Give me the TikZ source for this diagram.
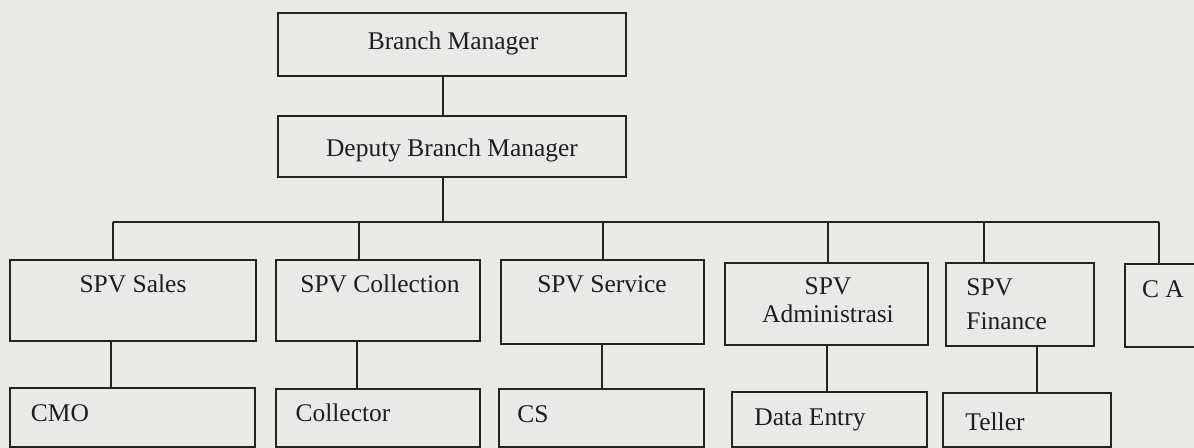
\documentclass[tikz,border=0pt]{standalone}
\usepackage{fontspec}
\setmainfont{Liberation Serif}
\usepackage{xcolor}
\usetikzlibrary{positioning,fit}

\definecolor{paper}{RGB}{233,233,231}
\definecolor{ink}{RGB}{40,33,28}
\definecolor{lettering}{RGB}{30,30,30}

\tikzset{
	unitbox/.style={draw=ink,line width=1.3pt,inner sep=0pt},
	link/.style={draw=ink,line width=1.3pt},
	caption/.style={text=lettering,inner sep=0pt,font=\fontsize{14.5}{18}\selectfont}
}

\begin{document}
\begin{tikzpicture}[x=0.02cm,y=-0.02cm]
		
		\fill[paper] (0,0) rectangle (1194,448);
		\useasboundingbox (0,0) rectangle (1194,448);
		
		% top of the chart
		\node[unitbox,fit={(278,13) (626,76)}] (bm) {};
		\node[unitbox,fit={(278,116) (626,177)}] (dbm) {};
		\node[caption,anchor=base] (bm-t) at (453,50) {Branch Manager};
		\node[caption,anchor=base] (dbm-t) at (452,157) {Deputy Branch Manager};
		
		% supervisors
		\node[unitbox,fit={(10,260) (256,341)}] (sales) {};
		\node[unitbox,fit={(276,260) (480,341)}] (coll) {};
		\node[unitbox,fit={(501,260) (704,344)}] (serv) {};
		\node[unitbox,fit={(725,263) (928,345)}] (adm) {};
		\node[unitbox,fit={(946,263) (1094,346)}] (fin) {};
		\node[unitbox,fit={(1125,264) (1220,347)}] (ca) {};
		
		\node[caption,anchor=base] (sales-t) at (133,293) {SPV Sales};
		\node[caption,anchor=base] (coll-t) at (380,293) {SPV Collection};
		\node[caption,anchor=base] (serv-t) at (602,293) {SPV Service};
		\node[caption,align=center,anchor=base,font=\fontsize{14.5}{16}\selectfont] (adm-t) at (828,323) {SPV\\Administrasi};
		\node[caption,align=left,anchor=base west,font=\fontsize{14.5}{19.5}\selectfont] (fin-t) at (966,330) {SPV\\Finance};
		\node[caption,anchor=base] (ca-t) at (1163,298) {C A};
		
		% staff
		\node[unitbox,fit={(10,388) (255,447)}] (cmo) {};
		\node[unitbox,fit={(276,389) (480,447)}] (collr) {};
		\node[unitbox,fit={(499,389) (704,447)}] (cs) {};
		\node[unitbox,fit={(732,392) (927,447)}] (de) {};
		\node[unitbox,fit={(943,393) (1111,447)}] (tel) {};
		
		\node[caption,anchor=base] (cmo-t) at (60,422) {CMO};
		\node[caption,anchor=base] (collr-t) at (343,422) {Collector};
		\node[caption,anchor=base] (cs-t) at (533,423) {CS};
		\node[caption,anchor=base] (de-t) at (810,426) {Data Entry};
		\node[caption,anchor=base] (tel-t) at (995,431) {Teller};
		
		% connectors
		\coordinate (trunk) at (443,0);
		\foreach \n/\x in {sales/113,coll/359,serv/603,adm/828,fin/984,ca/1159}{
			\coordinate (b-\n) at (\x,222);
			\draw[link] (b-\n) -- (b-\n |- \n.north);
		}
		\draw[link] (b-sales) -- (b-ca);
		\draw[link] (trunk |- bm.south) -- (trunk |- dbm.north);
		\draw[link] (trunk |- dbm.south) -- (trunk |- b-sales);
		
		\foreach \a/\b/\x in {sales/cmo/111,coll/collr/357,serv/cs/602,adm/de/827,fin/tel/1037}{
			\coordinate (d-\a) at (\x,0);
			\draw[link] (d-\a |- \a.south) -- (d-\a |- \b.north);
		}
		
	\end{tikzpicture}
\end{document}
